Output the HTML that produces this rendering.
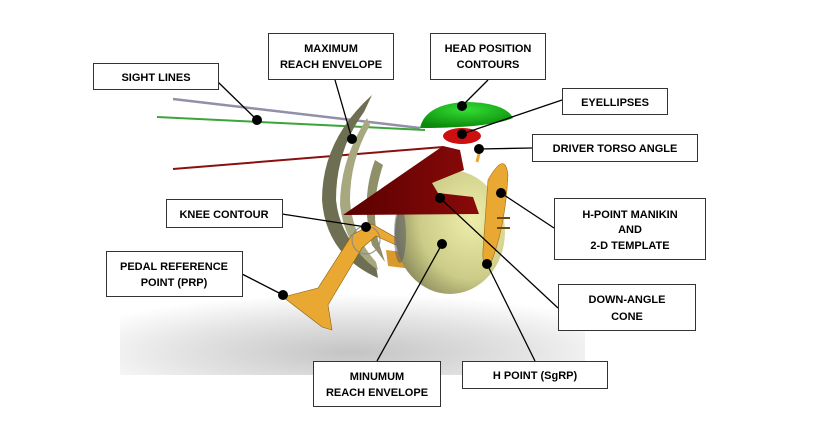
<!DOCTYPE html>
<html><head><meta charset="utf-8"><style>
html,body{margin:0;padding:0;background:#fff}
svg{display:block}
text{font-family:"Liberation Sans",sans-serif;font-weight:bold;font-size:11px;fill:#000;text-anchor:middle}
</style></head><body>
<svg width="814" height="441" viewBox="0 0 814 441" xmlns="http://www.w3.org/2000/svg">
<defs>
<radialGradient id="sh" cx="0.5" cy="0.75" r="0.65">
<stop offset="0" stop-color="#c4c4c4"/><stop offset="0.55" stop-color="#e2e2e2"/><stop offset="1" stop-color="#fff"/>
</radialGradient>
<radialGradient id="sp" cx="0.7" cy="0.4" r="0.8">
<stop offset="0" stop-color="#eeeeaa"/><stop offset="0.6" stop-color="#cccc88"/><stop offset="1" stop-color="#7a7a50"/>
</radialGradient>
<radialGradient id="gr" cx="0.5" cy="0.3" r="0.7">
<stop offset="0" stop-color="#33dd33"/><stop offset="1" stop-color="#0b8a0b"/>
</radialGradient>
<linearGradient id="cone" x1="0" y1="0" x2="1" y2="0">
<stop offset="0" stop-color="#5a0000"/><stop offset="1" stop-color="#8a0a0a"/>
</linearGradient>
</defs>
<rect x="120" y="285" width="465" height="90" fill="url(#sh)"/>
<line x1="173" y1="99" x2="420" y2="128" stroke="#9090a8" stroke-width="2.5"/>
<line x1="157" y1="117" x2="425" y2="130" stroke="#3aa53a" stroke-width="2"/>
<line x1="173" y1="169" x2="443" y2="147" stroke="#8a1010" stroke-width="2"/>
<!-- reach envelope -->
<path d="M372,95 Q322,140 322,200 Q326,255 378,278 L376,266 Q340,240 336,200 Q336,150 364,112 Z" fill="#6e6e52"/>
<path d="M367,118 Q340,160 340,205 Q345,248 378,270 L376,262 Q352,235 350,200 Q350,160 370,125 Z" fill="#a8a880"/>
<path d="M375,160 Q360,200 372,245 L385,262 L378,240 Q370,205 383,165 Z" fill="#8f8f6a"/>
<!-- leg -->
<path d="M283,297 L318,288 L352,235 L372,224 L400,240 L398,246 L376,236 L362,248 L328,305 L332,330 L322,327 Z" fill="#e8a832" stroke="#8a6010" stroke-width="0.6"/>
<path d="M386,250 L420,254 L420,270 L388,266 Z" fill="#d89a2a"/>
<circle cx="366" cy="240" r="14" fill="none" stroke="#888" stroke-width="1"/>
<!-- sphere -->
<ellipse cx="450" cy="232" rx="55" ry="62" fill="url(#sp)"/>
<ellipse cx="400" cy="235" rx="6" ry="28" fill="#556" opacity="0.5"/>
<!-- manikin back -->
<path d="M488,180 Q505,150 508,175 Q505,230 490,265 Q482,270 483,250 Z" fill="#e8a832" stroke="#a06a10" stroke-width="0.6"/>
<line x1="497" y1="218" x2="510" y2="218" stroke="#6a4a10" stroke-width="2"/>
<line x1="497" y1="228" x2="510" y2="228" stroke="#6a4a10" stroke-width="2"/>
<line x1="477" y1="162" x2="481" y2="145" stroke="#e8a832" stroke-width="3"/>
<!-- cone -->
<path d="M343,215 L443,146 L460,150 L464,170 L432,183 L438,193 L473,197 L479,214 Z" fill="url(#cone)"/>
<!-- head contours -->
<path d="M420,128 Q425,105 463,102 Q505,102 513,118 Q490,128 420,128 Z" fill="url(#gr)"/>
<ellipse cx="462" cy="136" rx="19" ry="8" fill="#cc1010"/>
<g stroke="#000" stroke-width="1.3" fill="none">
<line x1="218" y1="82" x2="257" y2="120"/>
<line x1="335" y1="80" x2="352" y2="139"/>
<line x1="488" y1="80" x2="462" y2="106"/>
<line x1="562" y1="100" x2="462" y2="134"/>
<line x1="532" y1="148" x2="479" y2="149"/>
<line x1="554" y1="228" x2="501" y2="193"/>
<line x1="282" y1="214" x2="366" y2="227"/>
<line x1="242" y1="274" x2="283" y2="295"/>
<line x1="558" y1="308" x2="440" y2="198"/>
<line x1="377" y1="361" x2="442" y2="244"/>
<line x1="535" y1="361" x2="487" y2="264"/>
</g>
<g fill="#000">
<circle cx="257" cy="120" r="5"/><circle cx="352" cy="139" r="5"/><circle cx="462" cy="106" r="5"/>
<circle cx="462" cy="134" r="5"/><circle cx="479" cy="149" r="5"/><circle cx="501" cy="193" r="5"/>
<circle cx="366" cy="227" r="5"/><circle cx="283" cy="295" r="5"/><circle cx="440" cy="198" r="5"/>
<circle cx="442" cy="244" r="5"/><circle cx="487" cy="264" r="5"/>
</g>
<g fill="#fff" stroke="#333" stroke-width="1">
<rect x="93.5" y="63.5" width="125" height="26"/>
<rect x="268.5" y="33.5" width="125" height="46"/>
<rect x="430.5" y="33.5" width="115" height="46"/>
<rect x="562.5" y="88.5" width="105" height="26"/>
<rect x="532.5" y="134.5" width="165" height="27"/>
<rect x="554.5" y="198.5" width="151" height="61"/>
<rect x="166.5" y="199.5" width="116" height="28"/>
<rect x="106.5" y="251.5" width="136" height="45"/>
<rect x="558.5" y="284.5" width="137" height="46"/>
<rect x="313.5" y="361.5" width="127" height="45"/>
<rect x="462.5" y="361.5" width="145" height="27"/>
</g>
<text x="156" y="81">SIGHT LINES</text>
<text x="331" y="52">MAXIMUM</text><text x="331" y="68">REACH ENVELOPE</text>
<text x="488" y="52">HEAD POSITION</text><text x="488" y="68">CONTOURS</text>
<text x="615" y="106">EYELLIPSES</text>
<text x="615" y="152">DRIVER TORSO ANGLE</text>
<text x="630" y="218">H-POINT MANIKIN</text><text x="630" y="233">AND</text><text x="630" y="249">2-D TEMPLATE</text>
<text x="224" y="218">KNEE CONTOUR</text>
<text x="174" y="270">PEDAL REFERENCE</text><text x="174" y="286">POINT (PRP)</text>
<text x="627" y="303">DOWN-ANGLE</text><text x="627" y="320">CONE</text>
<text x="377" y="380">MINUMUM</text><text x="377" y="396">REACH ENVELOPE</text>
<text x="535" y="379">H POINT (SgRP)</text>
</svg>
</body></html>
